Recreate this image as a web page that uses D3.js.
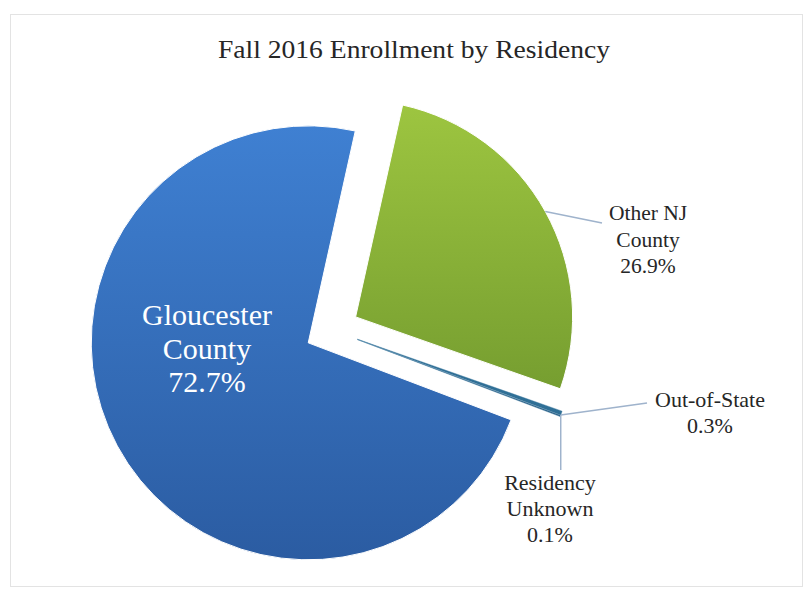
<!DOCTYPE html>
<html>
<head>
<meta charset="utf-8">
<script src="https://d3js.org/d3.v7.min.js"></script>
<style>
  body { margin: 0; background: #fff; }
  text { font-family: "Liberation Serif", "Times New Roman", serif; }
</style>
</head>
<body>
<svg width="807" height="592"></svg>
<script>
// data
var categories = ["Gloucester County", "Other NJ County", "Out-of-State", "Residency Unknown"];
var values = [72.7, 26.9, 0.3, 0.1];
var labelLines = [["Gloucester", "County", "72.7%"], ["Other NJ", "County", "26.9%"], ["Out-of-State", "0.3%"], ["Residency", "Unknown", "0.1%"]];

var svg = d3.select("svg");

// chart frame
svg.append("rect")
    .attr("x", 10.5).attr("y", 14.5)
    .attr("width", 792).attr("height", 572)
    .attr("fill", "none").attr("stroke", "#e3e3e3");

svg.append("text").text("Fall 2016 Enrollment by Residency")
    .attr("x", 414).attr("y", 58)
    .attr("text-anchor", "middle")
    .attr("textLength", 392)
    .attr("lengthAdjust", "spacingAndGlyphs")
    .style("font-size", "26px")
    .attr("fill", "#262626");

var defs = svg.append("defs");
function grad(id, c1, c2) {
    var g = defs.append("linearGradient").attr("id", id)
        .attr("x1", 0).attr("y1", 0).attr("x2", 0).attr("y2", 1);
    g.append("stop").attr("offset", "0%").attr("stop-color", c1);
    g.append("stop").attr("offset", "100%").attr("stop-color", c2);
}
grad("gBlue", "#3f80d2", "#2b5ca2");
grad("gGreen", "#9dc540", "#769e30");
var fills = ["url(#gBlue)", "url(#gGreen)", "#2f6f96", "#2a5f86"];

var cx = 332, cy = 330, r = 217, explode = 27;
var deg = Math.PI / 180;
var startAngle = 110.8 * deg;

var pie = d3.pie().sort(null).value(function(d) { return d; })
    .startAngle(startAngle).endAngle(startAngle + 2 * Math.PI);
var arcs = pie(values);
var arc = d3.arc().innerRadius(0).outerRadius(r);

function offset(d) {
    var a = (d.startAngle + d.endAngle) / 2;
    return [cx + explode * Math.sin(a), cy - explode * Math.cos(a)];
}

var g = svg.append("g");
for (var i = 0; i < arcs.length; i++) {
    var o = offset(arcs[i]);
    g.append("path")
        .attr("d", arc(arcs[i]))
        .attr("transform", "translate(" + o[0] + "," + o[1] + ")")
        .attr("fill", fills[i])
        .attr("stroke", i < 2 ? "#ffffff" : "#3d7aa0")
        .attr("stroke-width", i < 2 ? 1 : 0.4);
}

// point on the outer edge of a slice at a given angle
function edgePoint(d, a, rr) {
    var o = offset(d);
    return [o[0] + rr * Math.sin(a), o[1] - rr * Math.cos(a)];
}

var lineColor = "#9fb3cc";
// Other NJ leader
var nj = arcs[1];
var p1 = edgePoint(nj, (nj.startAngle + nj.endAngle) / 2, r);
svg.append("line").attr("x1", p1[0]).attr("y1", p1[1]).attr("x2", 602).attr("y2", 223)
    .attr("stroke", lineColor).attr("stroke-width", 1.5);
// small slices leaders
var tip = edgePoint(arcs[2], arcs[2].endAngle, r);
svg.append("line").attr("x1", tip[0]).attr("y1", tip[1]).attr("x2", 647).attr("y2", 403)
    .attr("stroke", lineColor).attr("stroke-width", 1.5);
svg.append("line").attr("x1", tip[0]).attr("y1", tip[1]).attr("x2", tip[0]).attr("y2", 470)
    .attr("stroke", lineColor).attr("stroke-width", 1.5);

function multiLabel(lines, x, y0, dy, size, color) {
    var t = svg.append("text").attr("text-anchor", "middle")
        .style("font-size", size + "px").attr("fill", color);
    lines.forEach(function(s, k) {
        t.append("tspan").attr("x", x).attr("y", y0 + k * dy).text(s);
    });
}
multiLabel(labelLines[0], 207, 325, 33.5, 30, "#ffffff");
multiLabel(labelLines[1], 648, 220, 26.5, 21.5, "#262626");
multiLabel(labelLines[2], 710, 407, 25.5, 22, "#262626");
multiLabel(labelLines[3], 550, 490, 26, 22, "#262626");
</script>
</body>
</html>
